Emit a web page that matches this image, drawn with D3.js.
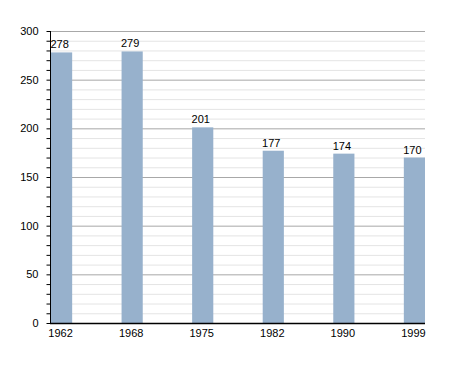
<!DOCTYPE html>
<html><head><meta charset="utf-8">
<script src="https://cdn.jsdelivr.net/npm/d3@7"></script>
<style>body{margin:0;background:#fff}svg text{font-family:"Liberation Sans",Arial,sans-serif;font-size:11px;fill:#000}</style>
</head><body><svg id="c" width="455" height="373"></svg>
<script>
const years = ["1962","1968","1975","1982","1990","1999"];
const population = [278,279,201,177,174,170];
const yTicks = [0,50,100,150,200,250,300];

const svg = d3.select("#c");
const mLeft = 50, mRight = 425, mTop = 31, mBottom = 323;
const y = d3.scaleLinear().domain([0,300]).range([mBottom, mTop]);
const x = d3.scaleBand().domain(years).range([mLeft+1, mRight]).paddingInner(0.7).paddingOuter(0).align(0);

// minor gridlines
const minor = d3.range(10, 301, 10).filter(v => v % 50 !== 0);
svg.append("g").selectAll("line").data(minor).join("line")
  .attr("x1", mLeft).attr("x2", mRight).attr("y1", d => y(d)+0.5).attr("y2", d => y(d)+0.5)
  .attr("stroke", "#e4e4e4").attr("stroke-width", 1);
// major gridlines
svg.append("g").selectAll("line").data(yTicks.filter(v => v > 0)).join("line")
  .attr("x1", mLeft).attr("x2", mRight).attr("y1", d => y(d)+0.5).attr("y2", d => y(d)+0.5)
  .attr("stroke", "#a8a8a8").attr("stroke-width", 1);

// bars
svg.append("g").selectAll("rect").data(population).join("rect")
  .attr("x", (d,i) => x(years[i])).attr("width", x.bandwidth())
  .attr("y", d => y(d)).attr("height", d => y(0) - y(d))
  .attr("fill", "#97b1cc");

// value labels
svg.append("g").selectAll("text").data(population).join("text")
  .attr("x", (d,i) => x(years[i]) + x.bandwidth()/2 - 2).attr("y", d => y(d) - 4)
  .attr("text-anchor", "middle").text(d => d);

// y axis
const yAxis = d3.axisLeft(y).tickValues(yTicks).tickSize(0).tickPadding(12);
const gy = svg.append("g").attr("transform", `translate(${mLeft+0.5},0)`).call(yAxis);
gy.select(".domain").remove();
gy.selectAll("text").style("font-size","11px");
// minor ticks
const yMinor = d3.axisLeft(y).tickValues(d3.range(0, 301, 10)).tickSize(4).tickFormat("");
const gm = svg.append("g").attr("transform", `translate(${mLeft+0.5},0)`).call(yMinor);
gm.select(".domain").remove();
gm.selectAll("line").attr("stroke", "#000");
svg.append("line").attr("x1", mLeft+0.5).attr("x2", mLeft+0.5).attr("y1", mTop).attr("y2", mBottom+1).attr("stroke","#000");

// x axis
const xAxis = d3.axisBottom(x).tickSize(0).tickPadding(6);
const gx = svg.append("g").attr("transform", `translate(-1,${mBottom})`).call(xAxis);
gx.select(".domain").remove();
gx.selectAll("text").style("font-size","11px");
svg.append("line").attr("x1", mLeft).attr("x2", mRight).attr("y1", mBottom+0.5).attr("y2", mBottom+0.5).attr("stroke","#000").attr("stroke-width",1.5);
</script></body></html>
